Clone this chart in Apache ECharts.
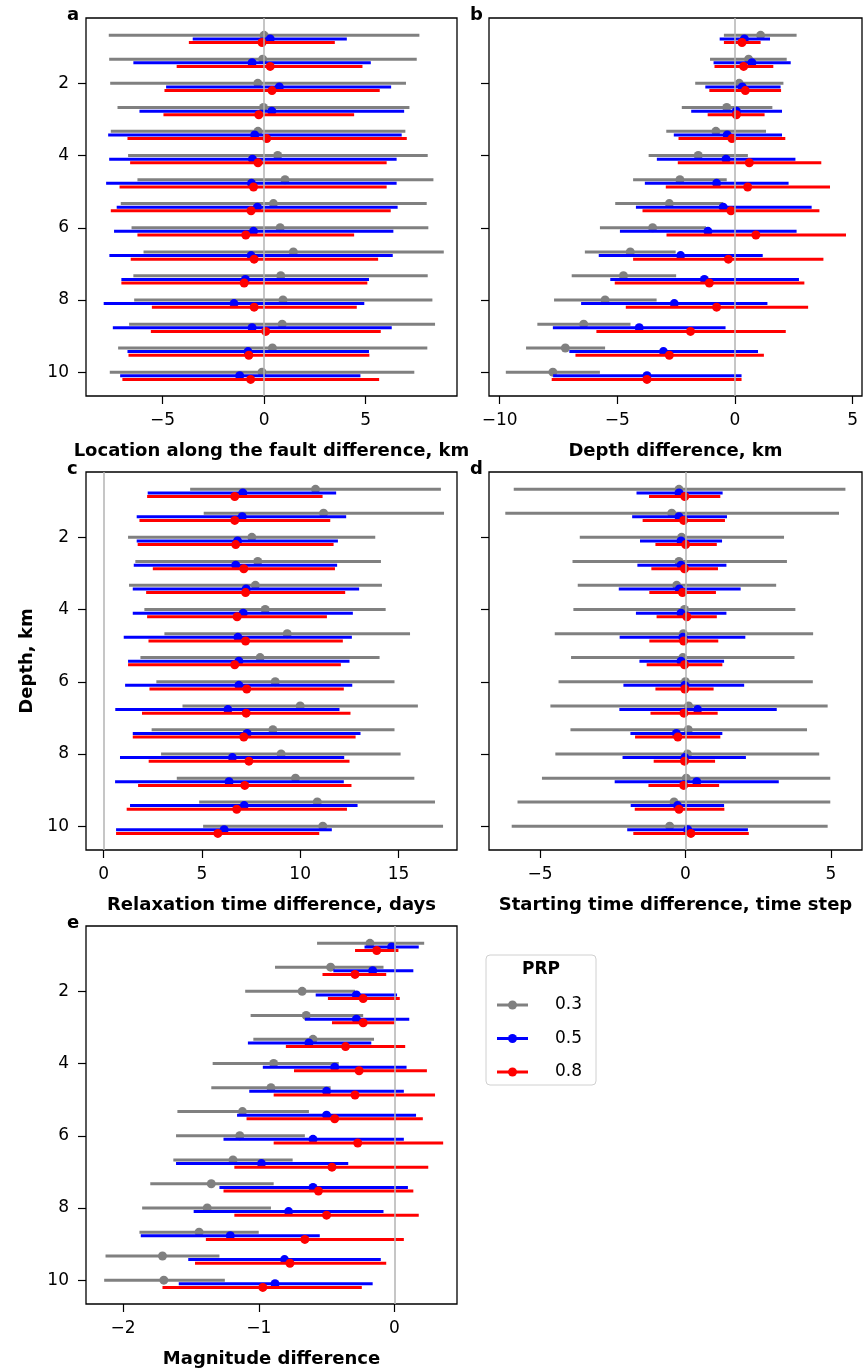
<!DOCTYPE html>
<html>
<head>
<meta charset="utf-8">
<title>PRP comparison</title>
<script src="https://cdn.jsdelivr.net/npm/echarts@6/dist/echarts.min.js"></script>
<style>
  html, body { margin: 0; padding: 0; background: #fff; }
  #chart { width: 864px; height: 1371px; }
</style>
</head>
<body>
<div id="chart"></div>
<script>
// row depths, km
const depths = [0.67, 1.33, 2, 2.67, 3.33, 4, 4.67, 5.33, 6, 6.67, 7.33, 8, 8.67, 9.33, 10];
const depthTicks = [2, 4, 6, 8, 10];
const prpNames = ["0.3", "0.5", "0.8"];

// every row: [low, estimate, high]
const locP03 = [[-7.64, 0, 7.64], [-7.62, -0.07, 7.51], [-7.57, -0.31, 6.98], [-7.21, -0.03, 7.15], [-7.54, -0.3, 6.95], [-6.69, 0.67, 8.05], [-6.23, 1.03, 8.33], [-7.05, 0.46, 8.0], [-6.52, 0.79, 8.08], [-5.93, 1.44, 8.84], [-6.43, 0.82, 8.05], [-6.39, 0.93, 8.28], [-6.64, 0.89, 8.41], [-7.18, 0.41, 8.03], [-7.59, -0.1, 7.39]];
const locP05 = [[-3.51, 0.3, 4.07], [-6.43, -0.59, 5.25], [-4.82, 0.75, 6.25], [-6.13, 0.38, 6.89], [-7.67, -0.46, 6.77], [-7.62, -0.57, 6.52], [-7.77, -0.62, 6.52], [-7.25, -0.33, 6.57], [-7.38, -0.52, 6.36], [-7.61, -0.64, 6.33], [-7.02, -0.92, 5.16], [-7.89, -1.48, 4.93], [-7.44, -0.59, 6.28], [-6.72, -0.79, 5.16], [-7.08, -1.2, 4.74]];
const locP08 = [[-3.7, -0.1, 3.48], [-4.3, 0.3, 4.84], [-4.9, 0.39, 5.69], [-4.95, -0.26, 4.43], [-6.72, 0.13, 7.02], [-6.59, -0.3, 6.03], [-7.11, -0.52, 6.03], [-7.54, -0.64, 6.23], [-6.23, -0.9, 4.43], [-6.56, -0.49, 5.61], [-7.02, -0.98, 5.08], [-5.52, -0.49, 4.56], [-5.57, 0.08, 5.74], [-6.67, -0.75, 5.18], [-6.97, -0.66, 5.66]];

const depP03 = [[-0.47, 1.09, 2.62], [-1.06, 0.58, 2.2], [-1.69, 0.18, 2.06], [-2.26, -0.35, 1.59], [-2.92, -0.81, 1.32], [-3.67, -1.56, 0.55], [-4.33, -2.34, -0.35], [-5.09, -2.79, -0.5], [-5.74, -3.5, -1.23], [-6.38, -4.45, -2.52], [-6.94, -4.74, -2.5], [-7.69, -5.52, -3.33], [-8.4, -6.43, -4.44], [-8.88, -7.21, -5.52], [-9.74, -7.74, -5.74]];
const depP05 = [[-0.65, 0.4, 1.49], [-0.91, 0.72, 2.37], [-1.26, 0.31, 1.94], [-1.86, 0.06, 2.0], [-2.6, -0.33, 2.0], [-3.32, -0.38, 2.57], [-3.83, -0.78, 2.28], [-4.21, -0.5, 3.26], [-4.89, -1.15, 2.62], [-5.79, -2.31, 1.18], [-5.3, -1.3, 2.72], [-6.54, -2.58, 1.38], [-7.74, -4.07, -0.4], [-7.04, -3.04, 0.98], [-7.73, -3.74, 0.28]];
const depP08 = [[-0.47, 0.3, 1.09], [-0.87, 0.37, 1.63], [-1.09, 0.44, 1.96], [-1.16, 0.06, 1.26], [-2.4, -0.13, 2.14], [-2.43, 0.61, 3.67], [-2.94, 0.54, 4.04], [-3.93, -0.17, 3.59], [-2.91, 0.89, 4.72], [-4.33, -0.28, 3.76], [-5.11, -1.09, 2.95], [-4.64, -0.78, 3.11], [-5.89, -1.89, 2.16], [-6.78, -2.79, 1.23], [-7.79, -3.74, 0.28]];

const relP03 = [[4.4, 10.78, 17.16], [5.09, 11.19, 17.32], [1.24, 7.54, 13.82], [1.61, 7.84, 14.11], [1.29, 7.72, 14.16], [2.07, 8.22, 14.35], [3.09, 9.34, 15.59], [1.87, 7.96, 14.04], [2.68, 8.73, 14.8], [4.01, 10.0, 15.99], [2.44, 8.61, 14.8], [2.92, 9.03, 15.11], [3.72, 9.76, 15.81], [4.86, 10.87, 16.86], [5.06, 11.15, 17.27]];
const relP05 = [[2.24, 7.08, 11.83], [1.68, 7.05, 12.34], [1.68, 6.81, 11.92], [1.53, 6.72, 11.88], [1.48, 7.25, 13.0], [1.48, 7.1, 12.68], [1.02, 6.83, 12.63], [1.24, 6.88, 12.51], [1.09, 6.88, 12.65], [0.59, 6.32, 12.0], [1.48, 7.3, 13.07], [0.83, 6.55, 12.24], [0.58, 6.38, 12.22], [1.34, 7.15, 12.92], [0.63, 6.13, 11.61]];
const relP08 = [[2.21, 6.67, 11.14], [1.82, 6.67, 11.53], [1.73, 6.72, 11.7], [2.5, 7.13, 11.77], [2.16, 7.22, 12.29], [2.21, 6.79, 11.36], [2.28, 7.22, 12.17], [1.24, 6.67, 12.07], [2.33, 7.28, 12.22], [1.95, 7.25, 12.56], [1.48, 7.13, 12.82], [2.29, 7.39, 12.51], [1.75, 7.18, 12.61], [1.17, 6.77, 12.38], [0.63, 5.81, 10.97]];

const staP03 = [[-5.9, -0.22, 5.5], [-6.19, -0.47, 5.28], [-3.63, -0.13, 3.39], [-3.88, -0.22, 3.49], [-3.7, -0.3, 3.12], [-3.85, -0.03, 3.78], [-4.49, -0.07, 4.39], [-3.93, -0.09, 3.75], [-4.36, 0.0, 4.38], [-4.64, 0.11, 4.89], [-3.95, 0.1, 4.18], [-4.47, 0.07, 4.6], [-4.93, 0.03, 4.98], [-5.77, -0.39, 4.98], [-5.97, -0.54, 4.89]];
const staP05 = [[-1.68, -0.22, 1.28], [-1.83, -0.22, 1.43], [-1.56, -0.15, 1.26], [-1.65, -0.15, 1.41], [-2.29, -0.21, 1.9], [-1.7, -0.15, 1.41], [-2.26, -0.09, 2.06], [-1.58, -0.15, 1.33], [-2.13, -0.02, 2.02], [-2.27, 0.42, 3.14], [-1.89, -0.31, 1.27], [-2.16, -0.02, 2.08], [-2.43, 0.39, 3.21], [-1.88, -0.27, 1.33], [-2.0, 0.08, 2.15]];
const staP08 = [[-1.25, -0.02, 1.2], [-1.47, -0.06, 1.36], [-1.03, 0.01, 1.08], [-1.17, -0.03, 1.12], [-1.24, -0.1, 1.05], [-0.99, 0.05, 1.08], [-1.24, -0.06, 1.13], [-1.33, -0.03, 1.27], [-1.03, -0.02, 0.97], [-1.2, -0.05, 1.11], [-1.73, -0.26, 1.2], [-1.09, -0.03, 1.02], [-1.27, -0.06, 1.16], [-1.74, -0.22, 1.34], [-1.79, 0.19, 2.18]];

const magP03 = [[-0.57, -0.18, 0.22], [-0.88, -0.47, -0.08], [-1.1, -0.68, -0.29], [-1.06, -0.65, -0.23], [-1.04, -0.6, -0.15], [-1.34, -0.89, -0.41], [-1.35, -0.91, -0.47], [-1.6, -1.12, -0.63], [-1.61, -1.14, -0.66], [-1.63, -1.19, -0.75], [-1.8, -1.35, -0.89], [-1.86, -1.38, -0.91], [-1.88, -1.44, -1.0], [-2.13, -1.71, -1.29], [-2.14, -1.7, -1.25]];
const magP05 = [[-0.22, -0.02, 0.18], [-0.45, -0.16, 0.14], [-0.58, -0.28, 0.02], [-0.66, -0.28, 0.11], [-1.08, -0.63, -0.17], [-0.97, -0.44, 0.09], [-1.07, -0.5, 0.07], [-1.16, -0.5, 0.16], [-1.26, -0.6, 0.07], [-1.61, -0.98, -0.34], [-1.29, -0.6, 0.1], [-1.48, -0.78, -0.08], [-1.87, -1.21, -0.55], [-1.52, -0.81, -0.1], [-1.59, -0.88, -0.16]];
const magP08 = [[-0.29, -0.13, 0.03], [-0.53, -0.29, -0.06], [-0.49, -0.23, 0.04], [-0.46, -0.23, 0.0], [-0.8, -0.36, 0.08], [-0.74, -0.26, 0.24], [-0.89, -0.29, 0.3], [-1.09, -0.44, 0.21], [-0.89, -0.27, 0.36], [-1.18, -0.46, 0.25], [-1.26, -0.56, 0.14], [-1.18, -0.5, 0.18], [-1.39, -0.66, 0.07], [-1.47, -0.77, -0.06], [-1.71, -0.97, -0.24]];

const font = "DejaVu Sans";
const colors = ["#808080", "#0000ff", "#ff0000"];
const rowShift = [0, 0.1, 0.2]; // small vertical offset so bars don't overlap
const panelH = 378;

const panels = [
  { tag: "a", title: "Location along the fault difference, km", left: 86, top: 18, width: 371, xmin: -8.76, xmax: 9.49, xticks: [-5, 0, 5], rows: [locP03, locP05, locP08], yLabels: true },
  { tag: "b", title: "Depth difference, km", left: 489, top: 18, width: 373, xmin: -10.455, xmax: 5.4, xticks: [-10, -5, 0, 5], rows: [depP03, depP05, depP08], yLabels: false },
  { tag: "c", title: "Relaxation time difference, days", left: 86, top: 472, width: 371, xmin: -0.9, xmax: 17.98, xticks: [0, 5, 10, 15], rows: [relP03, relP05, relP08], yLabels: true, yName: "Depth, km" },
  { tag: "d", title: "Starting time difference, time step", left: 489, top: 472, width: 373, xmin: -6.75, xmax: 6.07, xticks: [-5, 0, 5], rows: [staP03, staP05, staP08], yLabels: false },
  { tag: "e", title: "Magnitude difference", left: 86, top: 926, width: 371, xmin: -2.274, xmax: 0.462, xticks: [-2, -1, 0], rows: [magP03, magP05, magP08], yLabels: true }
];

const minus = (v) => String(v).replace("-", "\u2212");

const errorBar = (color) => (params, api) => {
  const y = api.value(3);
  const a = api.coord([api.value(0), y]);
  const b = api.coord([api.value(2), y]);
  const m = api.coord([api.value(1), y]);
  return {
    type: "group",
    children: [
      { type: "line", shape: { x1: a[0], y1: a[1], x2: b[0], y2: b[1] }, style: { stroke: color, lineWidth: 3 } },
      { type: "circle", shape: { cx: m[0], cy: m[1], r: 4.5 }, style: { fill: color } }
    ]
  };
};

const grid = panels.map((p) => ({
  left: p.left, top: p.top, width: p.width, height: panelH,
  show: true, borderColor: "#000", borderWidth: 1.3,
  containLabel: false, outerBoundsMode: "none"
}));

const xAxis = panels.map((p, i) => ({
  type: "value", gridIndex: i, min: p.xmin, max: p.xmax,
  splitLine: { show: false },
  axisLine: { show: false, onZero: false },
  axisTick: { show: true, length: 8, customValues: p.xticks, lineStyle: { color: "#000", width: 1.2 } },
  axisLabel: { customValues: p.xticks, formatter: minus, color: "#000", fontFamily: font, fontSize: 17, margin: 16 },
  name: p.title, nameLocation: "middle", nameGap: 46,
  nameTextStyle: { fontFamily: font, fontSize: 18, fontWeight: "bold", color: "#000" }
}));

const yAxis = panels.map((p, i) => ({
  type: "value", gridIndex: i, inverse: true, min: 0.19, max: 10.66,
  splitLine: { show: false },
  axisLine: { show: false, onZero: false },
  axisTick: { show: true, length: 8, customValues: depthTicks, lineStyle: { color: "#000", width: 1.2 } },
  axisLabel: { show: p.yLabels, customValues: depthTicks, color: "#000", fontFamily: font, fontSize: 17, margin: 17 },
  name: p.yName || "", nameLocation: "middle", nameGap: 50,
  nameTextStyle: { fontFamily: font, fontSize: 18, fontWeight: "bold", color: "#000" }
}));

const series = [];
panels.forEach((p, i) => {
  // vertical reference line at zero
  series.push({
    type: "line", xAxisIndex: i, yAxisIndex: i, data: [], z: 1,
    markLine: {
      silent: true, symbol: "none", label: { show: false },
      lineStyle: { color: "#b3b3b3", type: "solid", width: 1.5 },
      data: [{ xAxis: 0 }]
    }
  });
  p.rows.forEach((rows, k) => {
    series.push({
      type: "custom", name: prpNames[k], xAxisIndex: i, yAxisIndex: i, z: 2 + k,
      renderItem: errorBar(colors[k]),
      encode: { x: [0, 1, 2], y: 3 },
      data: rows.map((r, j) => [r[0], r[1], r[2], depths[j] + rowShift[k]])
    });
  });
});

const graphic = panels.map((p) => ({
  type: "text", left: p.left - 19, top: p.top - 12,
  style: { text: p.tag, font: "bold 18px " + font, fill: "#000" }
}));

// legend box
const lx = 486, ly = 955;
graphic.push({ type: "rect", shape: { x: lx, y: ly, width: 110, height: 130, r: 4 }, style: { fill: "#fff", stroke: "#d0d0d0", lineWidth: 1 } });
graphic.push({ type: "text", x: lx + 55, y: ly + 15, style: { text: "PRP", font: "bold 17px " + font, fill: "#000", align: "center", verticalAlign: "middle" } });
prpNames.forEach((n, k) => {
  const y = ly + 50 + k * 33.5;
  graphic.push({ type: "line", shape: { x1: lx + 11, y1: y, x2: lx + 42, y2: y }, style: { stroke: colors[k], lineWidth: 3 } });
  graphic.push({ type: "circle", shape: { cx: lx + 26.5, cy: y, r: 4.5 }, style: { fill: colors[k] } });
  graphic.push({ type: "text", x: lx + 69, y: y, style: { text: n, font: "17px " + font, fill: "#000", verticalAlign: "middle" } });
});

const chart = echarts.init(document.getElementById("chart"), null, { renderer: "canvas" });
chart.setOption({
  animation: false,
  backgroundColor: "#fff",
  grid, xAxis, yAxis, series, graphic
});
</script>
</body>
</html>
